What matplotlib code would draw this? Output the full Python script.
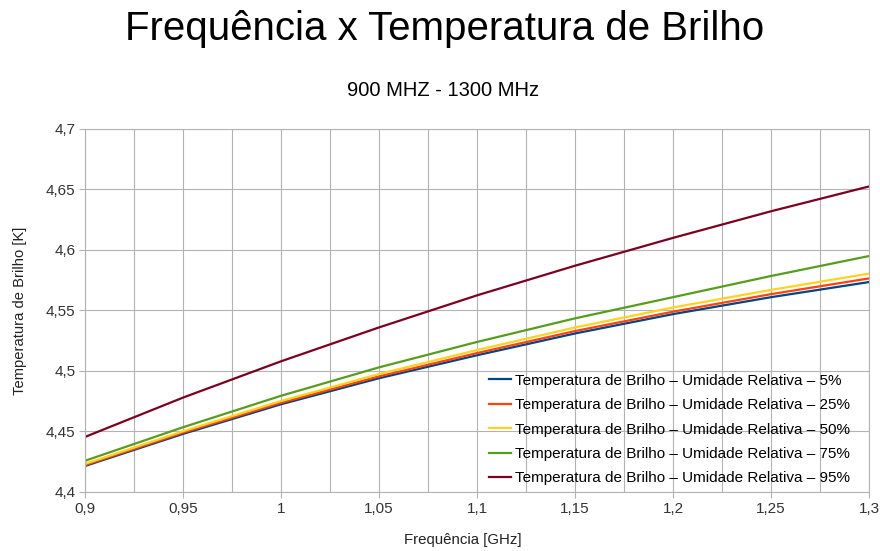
import matplotlib
matplotlib.use('Agg')
from matplotlib import pyplot as plt
from matplotlib.ticker import MultipleLocator, FuncFormatter

plt.rcParams['font.family'] = ['Liberation Sans', 'DejaVu Sans']

# frequency in GHz
freq = [0.90, 0.95, 1.00, 1.05, 1.10, 1.15, 1.20, 1.25, 1.30]

# brightness temperature [K] for each relative humidity
tb_05 = [4.4215, 4.4480, 4.4725, 4.4940, 4.5130, 4.5310, 4.5470, 4.5610, 4.5735]
tb_25 = [4.4222, 4.4490, 4.4737, 4.4955, 4.5148, 4.5330, 4.5490, 4.5635, 4.5765]
tb_50 = [4.4232, 4.4502, 4.4752, 4.4975, 4.5173, 4.5360, 4.5525, 4.5670, 4.5805]
tb_75 = [4.4258, 4.4535, 4.4795, 4.5030, 4.5240, 4.5435, 4.5610, 4.5785, 4.5950]
tb_95 = [4.4455, 4.4780, 4.5080, 4.5360, 4.5625, 4.5870, 4.6100, 4.6320, 4.6525]

series = [tb_05, tb_25, tb_50, tb_75, tb_95]
labels = ['Temperatura de Brilho – Umidade Relativa – 5%',
          'Temperatura de Brilho – Umidade Relativa – 25%',
          'Temperatura de Brilho – Umidade Relativa – 50%',
          'Temperatura de Brilho – Umidade Relativa – 75%',
          'Temperatura de Brilho – Umidade Relativa – 95%']
colors = ['#004586', '#ff420e', '#ffd320', '#579d1c', '#7e0021']

fig = plt.figure(figsize=(8.8, 5.51), dpi=100)
ax = fig.add_axes([0.0966, 0.1071, 0.8909, 0.6588])

for vals, lab, c in zip(series, labels, colors):
    ax.plot(freq, vals, color=c, lw=1.6, label=lab)

ax.set_xlim(0.9, 1.3)
ax.set_ylim(4.4, 4.7)
ax.xaxis.set_major_locator(MultipleLocator(0.05))
ax.xaxis.set_minor_locator(MultipleLocator(0.025))
ax.yaxis.set_major_locator(MultipleLocator(0.05))

def comma(v, pos):
    return ('%g' % round(v, 4)).replace('.', ',')

ax.xaxis.set_major_formatter(FuncFormatter(comma))
ax.yaxis.set_major_formatter(FuncFormatter(comma))

ax.grid(True, which='both', axis='x', color='#b3b3b3', lw=0.8)
ax.grid(True, which='major', axis='y', color='#b3b3b3', lw=0.8)
ax.set_axisbelow(True)
for s in ax.spines.values():
    s.set_color('#b3b3b3')
    s.set_linewidth(0.8)
ax.tick_params(axis='both', which='major', labelsize=11, length=4,
               color='#b3b3b3', labelcolor='#333333', pad=3)
ax.tick_params(axis='x', which='minor', length=0)

ax.set_xlabel('Frequência [GHz]', fontsize=10.8, color='#222222')
ax.xaxis.set_label_coords(0.482, -0.112)
ax.set_ylabel('Temperatura de Brilho [K]', fontsize=10.6, color='#222222')
ax.yaxis.set_label_coords(-0.074, 0.5)

fig.text(0.505, 0.947, 'Frequência x Temperatura de Brilho', fontsize=29,
         ha='center', va='center')
fig.text(0.503, 0.836, '900 MHZ - 1300 MHz', fontsize=14.5, ha='center', va='center')

leg = ax.legend(loc='lower right', bbox_to_anchor=(0.988, -0.007), frameon=False,
                fontsize=11, handlelength=1.45, handletextpad=0.27,
                labelspacing=0.68, borderaxespad=0.2)

fig.savefig('out.png', dpi=100)
